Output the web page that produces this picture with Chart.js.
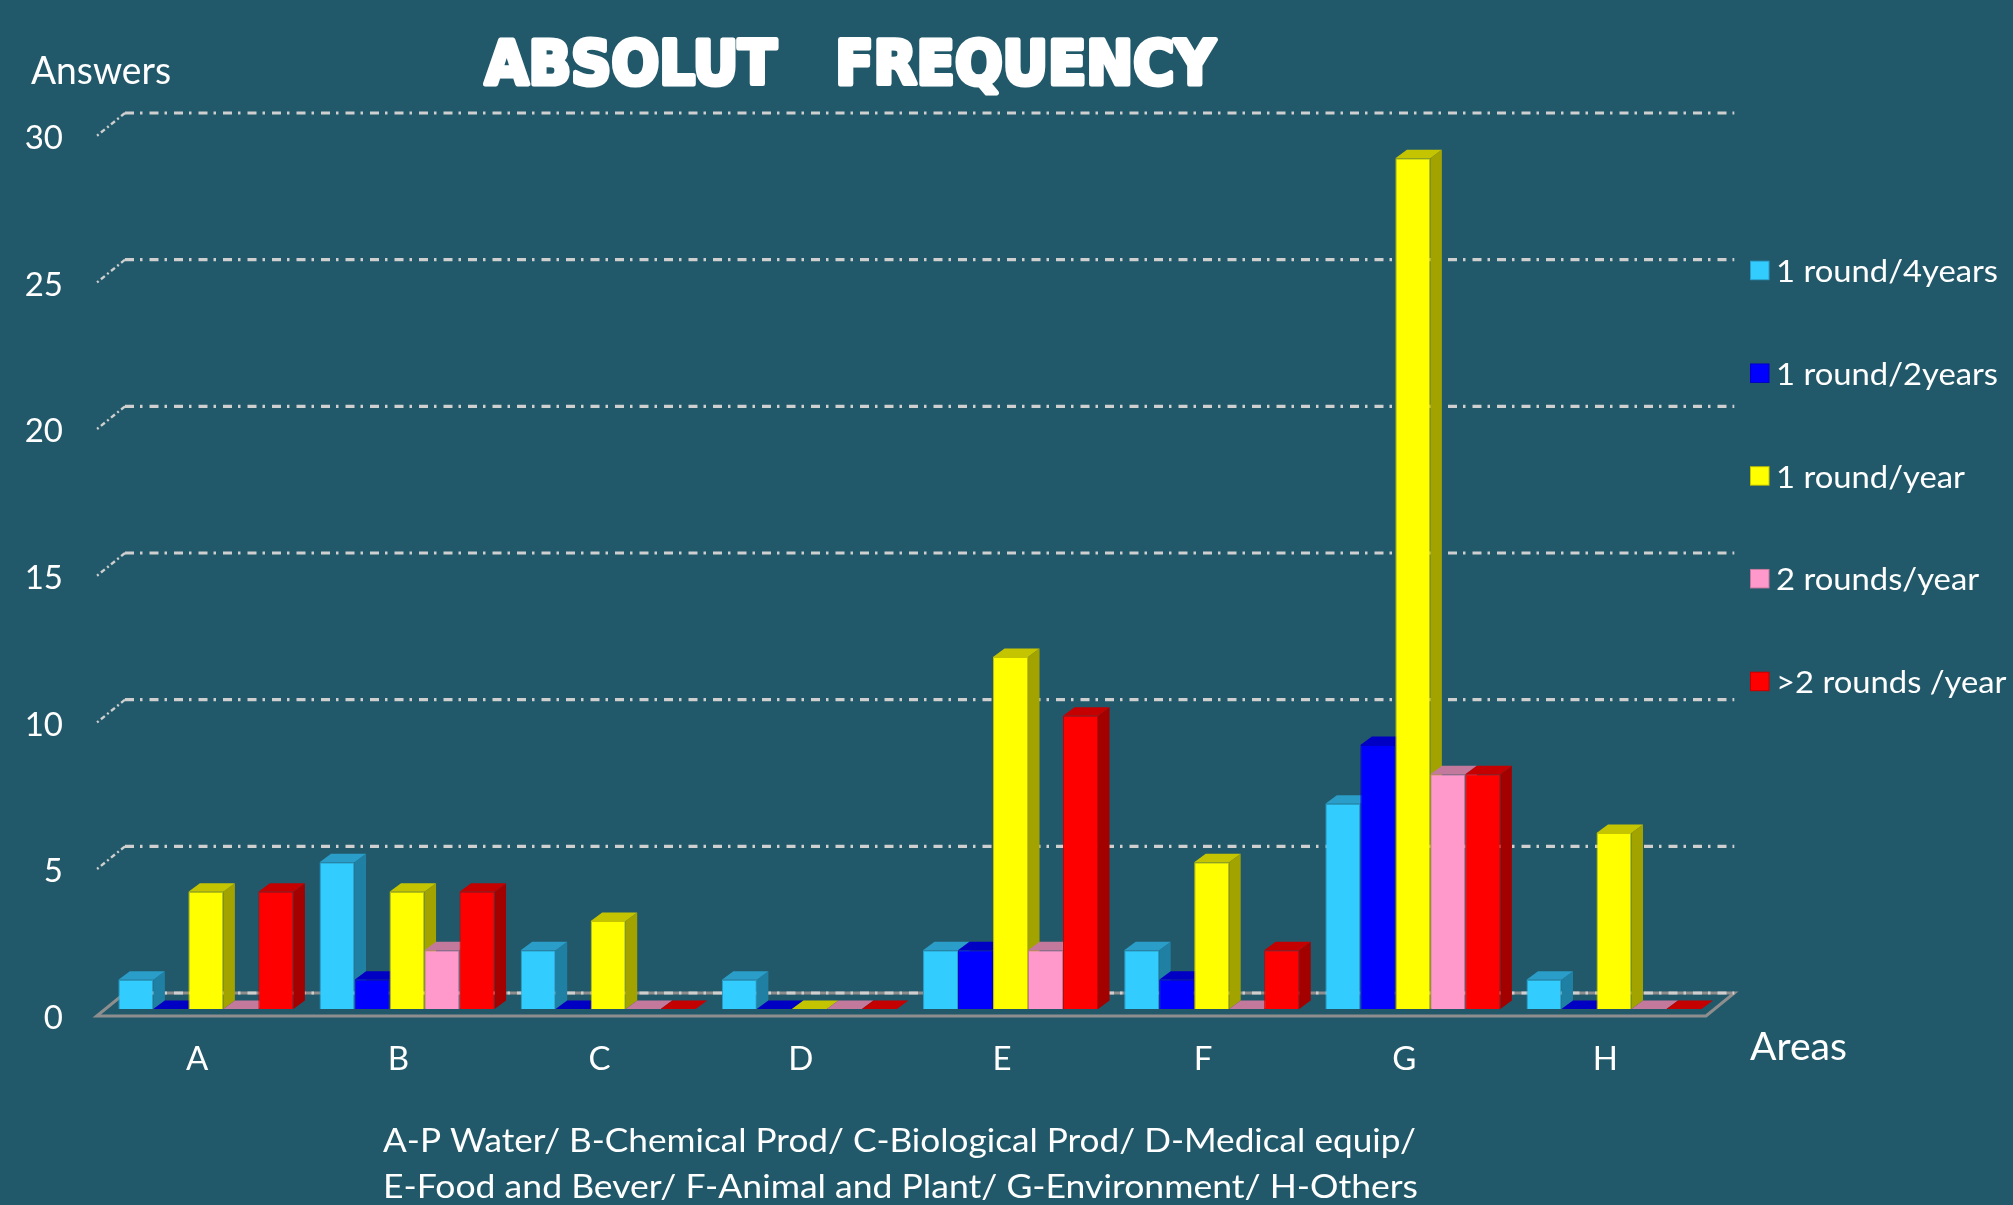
<!DOCTYPE html>
<html>
<head>
<meta charset="utf-8">
<title>Absolut Frequency</title>
<script src="https://cdn.jsdelivr.net/npm/chart.js@4/dist/chart.umd.min.js"></script>
<style>
  html, body { margin: 0; padding: 0; background: #22596a; overflow: hidden; }
  canvas { display: block; }
</style>
</head>
<body>
<canvas id="chart" width="2013" height="1205"></canvas>
<script>
// Areas surveyed
const categories = ['A', 'B', 'C', 'D', 'E', 'F', 'G', 'H'];

// Answers per area for each participation frequency
const seriesNames = ['1 round/4years', '1 round/2years', '1 round/year', '2 rounds/year', '>2 rounds /year'];
const oneRound4Years = [1, 5, 2, 1, 2, 2, 7, 1];
const oneRound2Years = [0, 1, 0, 0, 2, 1, 9, 0];
const oneRoundYear   = [4, 4, 3, 0, 12, 5, 29, 6];
const twoRoundsYear  = [0, 2, 0, 0, 2, 0, 8, 0];
const moreThanTwo    = [4, 4, 0, 0, 10, 2, 8, 0];

// Value axis ticks
const yTicks = [0, 5, 10, 15, 20, 25, 30];

const titleText = 'ABSOLUT   FREQUENCY';
const yAxisTitle = 'Answers';
const xAxisTitle = 'Areas';
const footnote = [
  'A-P Water/ B-Chemical Prod/ C-Biological Prod/ D-Medical equip/',
  'E-Food and Bever/ F-Animal and Plant/ G-Environment/ H-Others'
];

// Face colours: front, top, side
const palette = [
  { front: '#33ccff', top: '#2a9dc8', side: '#1f80a3' },
  { front: '#0000ff', top: '#0000c4', side: '#0000a3' },
  { front: '#ffff00', top: '#c4c400', side: '#a3a300' },
  { front: '#ff99cc', top: '#c3799b', side: '#a3627f' },
  { front: '#ff0000', top: '#c40000', side: '#a30000' }
];

const seriesValues = [oneRound4Years, oneRound2Years, oneRoundYear, twoRoundsYear, moreThanTwo];

// Pseudo-3D geometry (pixels) relative to the plane the bar fronts sit in
const BAR_DEPTH = { dx: 11.5, dy: 8.5 };
const FRONT_PLANE = { dx: -8.6, dy: 7 };
const BACK_PLANE = { dx: 19.7, dy: -16 };

const FONT = 'Lato, "Open Sans", "DejaVu Sans", sans-serif';

function poly(ctx, pts, fill) {
  ctx.beginPath();
  ctx.moveTo(pts[0][0], pts[0][1]);
  for (let i = 1; i < pts.length; i++) ctx.lineTo(pts[i][0], pts[i][1]);
  ctx.closePath();
  ctx.fillStyle = fill;
  ctx.fill();
}

// Draw text with its natural width squeezed/stretched to a target width
function fitText(ctx, text, x, y, width, font) {
  ctx.save();
  ctx.font = font;
  const w = ctx.measureText(text).width;
  ctx.translate(x, y);
  ctx.scale(width / w, 1);
  ctx.textAlign = 'left';
  ctx.fillText(text, 0, 0);
  ctx.restore();
}

const scenePlugin = {
  id: 'scene3d',
  beforeDraw(chart) {
    const ctx = chart.ctx;
    ctx.save();
    ctx.fillStyle = '#22596a';
    ctx.fillRect(0, 0, chart.width, chart.height);
    ctx.restore();
  },
  beforeDatasetsDraw(chart) {
    const ctx = chart.ctx;
    const area = chart.chartArea;
    const y = chart.scales.y;
    const y0 = y.getPixelForValue(0);

    // floor outline
    const fl = [area.left + FRONT_PLANE.dx, y0 + FRONT_PLANE.dy];
    const fr = [area.right + FRONT_PLANE.dx, y0 + FRONT_PLANE.dy];
    const bl = [area.left + BACK_PLANE.dx, y0 + BACK_PLANE.dy];
    const br = [area.right + BACK_PLANE.dx, y0 + BACK_PLANE.dy];
    ctx.save();
    ctx.strokeStyle = '#8e8e8e';
    ctx.lineWidth = 3;
    ctx.beginPath();
    ctx.moveTo(fl[0], fl[1]);
    ctx.lineTo(fr[0], fr[1]);
    ctx.lineTo(br[0], br[1]);
    ctx.lineTo(bl[0], bl[1]);
    ctx.closePath();
    ctx.stroke();
    ctx.restore();

    // dash-dot gridlines on the back plane with their diagonal lead-ins
    ctx.save();
    ctx.strokeStyle = '#cfcfcf';
    yTicks.forEach(v => {
      const py = y.getPixelForValue(v);
      ctx.lineWidth = 3.2;
      ctx.setLineDash([9, 6, 2.5, 7]);
      ctx.beginPath();
      ctx.moveTo(area.left + BACK_PLANE.dx, py + BACK_PLANE.dy);
      ctx.lineTo(area.right + BACK_PLANE.dx, py + BACK_PLANE.dy);
      ctx.stroke();
      if (v > 0) {
        ctx.lineWidth = 2.4;
        ctx.setLineDash([5, 3, 2, 3]);
        ctx.beginPath();
        ctx.moveTo(area.left + BACK_PLANE.dx, py + BACK_PLANE.dy);
        ctx.lineTo(area.left + FRONT_PLANE.dx, py + FRONT_PLANE.dy);
        ctx.stroke();
      }
    });
    ctx.restore();

    // side and top faces of every bar, left to right; the library then paints
    // the front faces over them, hiding whatever a neighbour would occlude
    const { dx, dy } = BAR_DEPTH;
    ctx.save();
    chart.data.datasets.forEach((ds, k) => {
      const meta = chart.getDatasetMeta(k);
      const colors = palette[k];
      meta.data.forEach((el, i) => {
        const p = el.getProps(['x', 'y', 'base', 'width'], true);
        const left = p.x - p.width / 2;
        const right = p.x + p.width / 2;
        const top = ds.data[i] > 0 ? p.y : p.base;
        if (ds.data[i] > 0) {
          poly(ctx, [[right, top], [right + dx, top - dy], [right + dx, p.base - dy], [right, p.base]], colors.side);
        }
        poly(ctx, [[left, top], [right, top], [right + dx, top - dy], [left + dx, top - dy]], colors.top);
      });
    });
    ctx.restore();
  },
  afterDraw(chart) {
    const ctx = chart.ctx;
    const y = chart.scales.y;
    const x = chart.scales.x;
    ctx.save();
    ctx.fillStyle = '#ffffff';
    ctx.textBaseline = 'alphabetic';

    // value tick labels, aligned with the front edge of the floor plane
    ctx.font = '33px ' + FONT;
    ctx.textAlign = 'right';
    yTicks.forEach(v => {
      ctx.fillText(String(v), 63, y.getPixelForValue(v) + FRONT_PLANE.dy + 13);
    });

    // category labels
    ctx.textAlign = 'center';
    categories.forEach((c, i) => {
      ctx.fillText(c, x.getPixelForValue(i) + FRONT_PLANE.dx, 1070);
    });

    // axis titles
    fitText(ctx, yAxisTitle, 31, 84, 140, '38px ' + FONT);
    fitText(ctx, xAxisTitle, 1750, 1060, 97, '38px ' + FONT);

    // chart title
    ctx.save();
    ctx.font = '900 60px "DejaVu Sans", sans-serif';
    const tw = ctx.measureText(titleText).width;
    ctx.translate(485, 84);
    ctx.scale(730 / tw, 1);
    ctx.textAlign = 'left';
    ctx.lineJoin = 'round';
    ctx.strokeStyle = '#ffffff';
    ctx.lineWidth = 5;
    ctx.strokeText(titleText, 0, 0);
    ctx.fillText(titleText, 0, 0);
    ctx.restore();

    // legend
    ctx.font = '30px ' + FONT;
    const legendScale = 222 / ctx.measureText(seriesNames[0]).width;
    seriesNames.forEach((name, k) => {
      const top = 260.7 + k * 102.75;
      ctx.fillStyle = palette[k].top;
      ctx.fillRect(1750, top, 19.5, 19.5);
      ctx.fillStyle = palette[k].front;
      ctx.fillRect(1751, top + 1, 17.5, 17.5);
      ctx.fillStyle = '#ffffff';
      ctx.save();
      ctx.translate(1776, top + 21.5);
      ctx.scale(legendScale, 1);
      ctx.textAlign = 'left';
      ctx.fillText(name, 0, 0);
      ctx.restore();
    });

    // footnote with area names
    fitText(ctx, footnote[0], 383, 1152, 1033, '33px ' + FONT);
    fitText(ctx, footnote[1], 383, 1198, 1035, '33px ' + FONT);
    ctx.restore();
  }
};

const datasets = seriesNames.map((name, k) => ({
  label: name,
  data: seriesValues[k],
  backgroundColor: palette[k].front,
  borderColor: palette[k].top,
  borderWidth: 1,
  borderSkipped: 'bottom'
}));

new Chart(document.getElementById('chart'), {
  type: 'bar',
  data: { labels: categories, datasets },
  options: {
    responsive: false,
    animation: false,
    events: [],
    layout: { padding: { left: 105.3, right: 298.4, top: 129, bottom: 196 } },
    datasets: { bar: { categoryPercentage: 0.87, barPercentage: 1.0 } },
    scales: {
      x: { display: false },
      y: { display: false, min: 0, max: 30 }
    },
    plugins: {
      legend: { display: false },
      title: { display: false },
      tooltip: { enabled: false }
    }
  },
  plugins: [scenePlugin]
});
</script>
</body>
</html>
